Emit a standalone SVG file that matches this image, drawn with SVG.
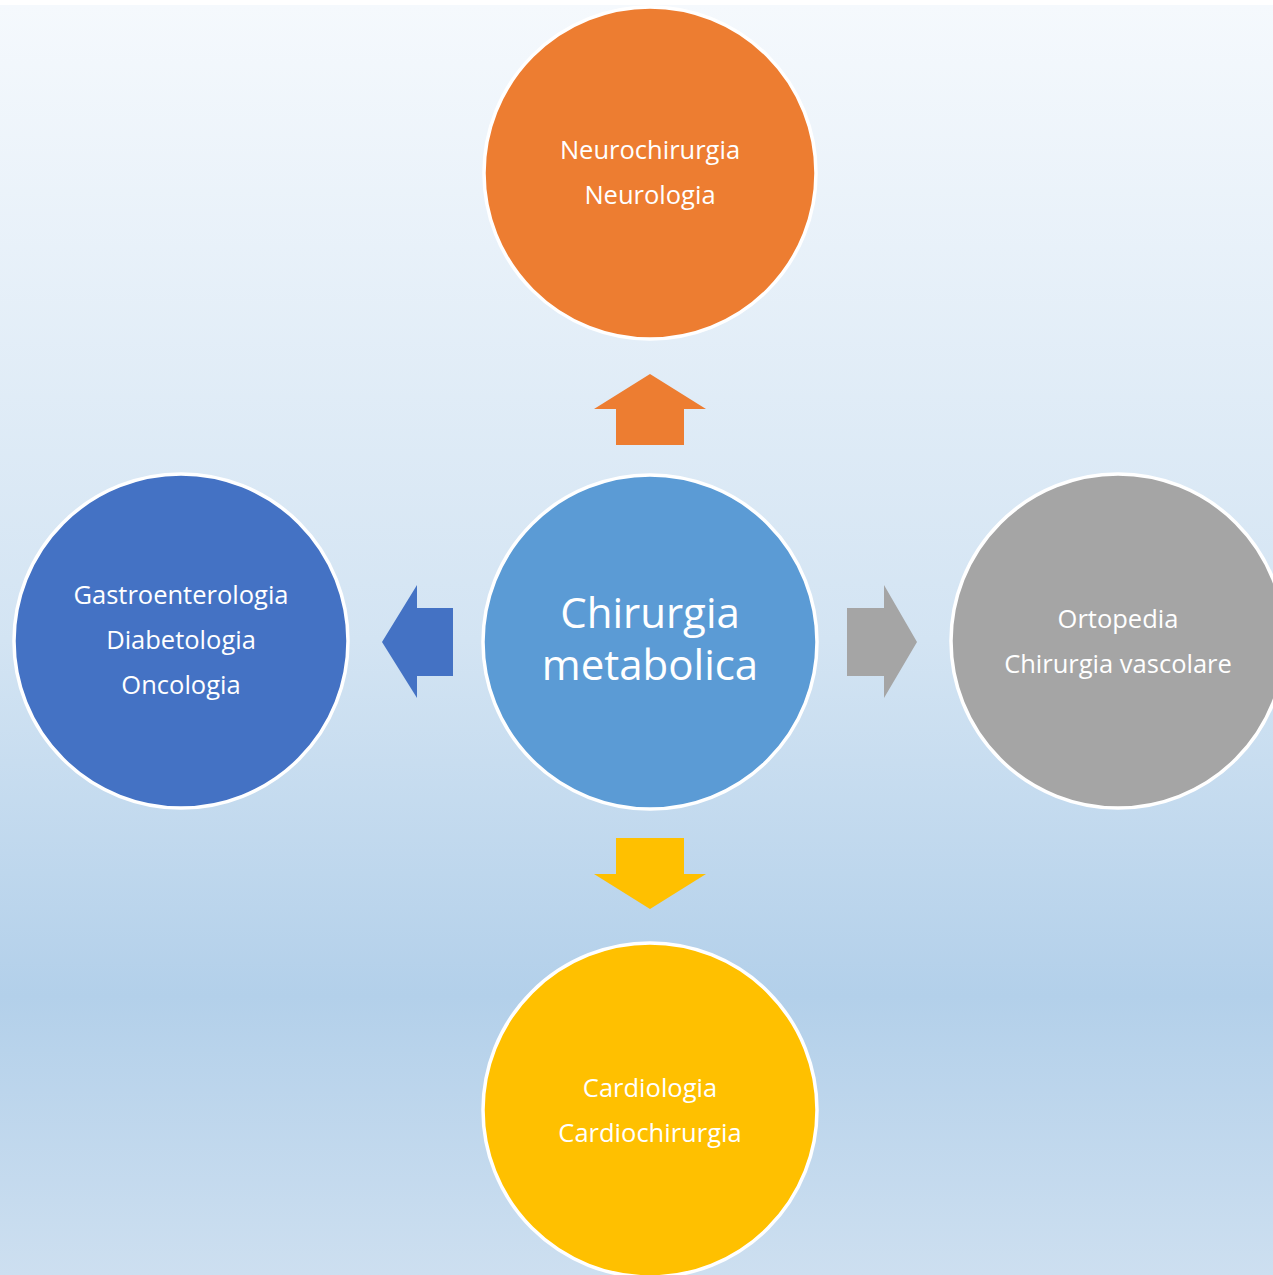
<svg xmlns="http://www.w3.org/2000/svg" width="1273" height="1275" viewBox="0 0 1273 1275">
<defs>
<linearGradient id="bg" x1="0" y1="0" x2="0" y2="1">
<stop offset="0" stop-color="#f5f9fd"/>
<stop offset="0.5" stop-color="#d3e4f3"/>
<stop offset="0.78" stop-color="#b3d0ea"/>
<stop offset="1" stop-color="#cddff0"/>
</linearGradient>
</defs>
<style>
.c{stroke:#fff;stroke-width:3.5}
.t{font-family:"Open Sans","Liberation Sans",sans-serif;font-size:25.5px;fill:#fff;text-anchor:middle}
.tb{font-family:"Open Sans","Liberation Sans",sans-serif;font-size:42px;fill:#fff;text-anchor:middle}
</style>
<rect x="0" y="0" width="1273" height="1275" fill="#fff"/>
<rect x="0" y="5" width="1273" height="1270" fill="url(#bg)"/>
<g id="connectors">
<polygon points="650,374 706,409 684,409 684,445 616,445 616,409 594,409" fill="#ed7d31"/>
<polygon points="382,642 417,585 417,608 453,608 453,676 417,676 417,698" fill="#4472c4"/>
<polygon points="917,642 884,585 884,608 847,608 847,676 884,676 884,698" fill="#a5a5a5"/>
<polygon points="650,909 706,874 684,874 684,838 616,838 616,874 594,874" fill="#ffc000"/>
</g>
<g id="node-top">
<circle class="c" cx="650" cy="173" r="166" fill="#ed7d31"/>
<text class="t" x="650" y="159">Neurochirurgia</text>
<text class="t" x="650" y="204">Neurologia</text>
</g>
<g id="node-center">
<circle class="c" cx="650" cy="642" r="167" fill="#5b9bd5"/>
<text class="tb" x="650" y="628">Chirurgia</text>
<text class="tb" x="650" y="680">metabolica</text>
</g>
<g id="node-left">
<circle class="c" cx="181" cy="641" r="167" fill="#4472c4"/>
<text class="t" x="181" y="604">Gastroenterologia</text>
<text class="t" x="181" y="649">Diabetologia</text>
<text class="t" x="181" y="694">Oncologia</text>
</g>
<g id="node-right">
<circle class="c" cx="1118" cy="641" r="167" fill="#a5a5a5"/>
<text class="t" x="1118" y="628">Ortopedia</text>
<text class="t" x="1118" y="673">Chirurgia vascolare</text>
</g>
<g id="node-bottom">
<circle class="c" cx="650" cy="1110" r="167" fill="#ffc000"/>
<text class="t" x="650" y="1097">Cardiologia</text>
<text class="t" x="650" y="1142">Cardiochirurgia</text>
</g>
</svg>
